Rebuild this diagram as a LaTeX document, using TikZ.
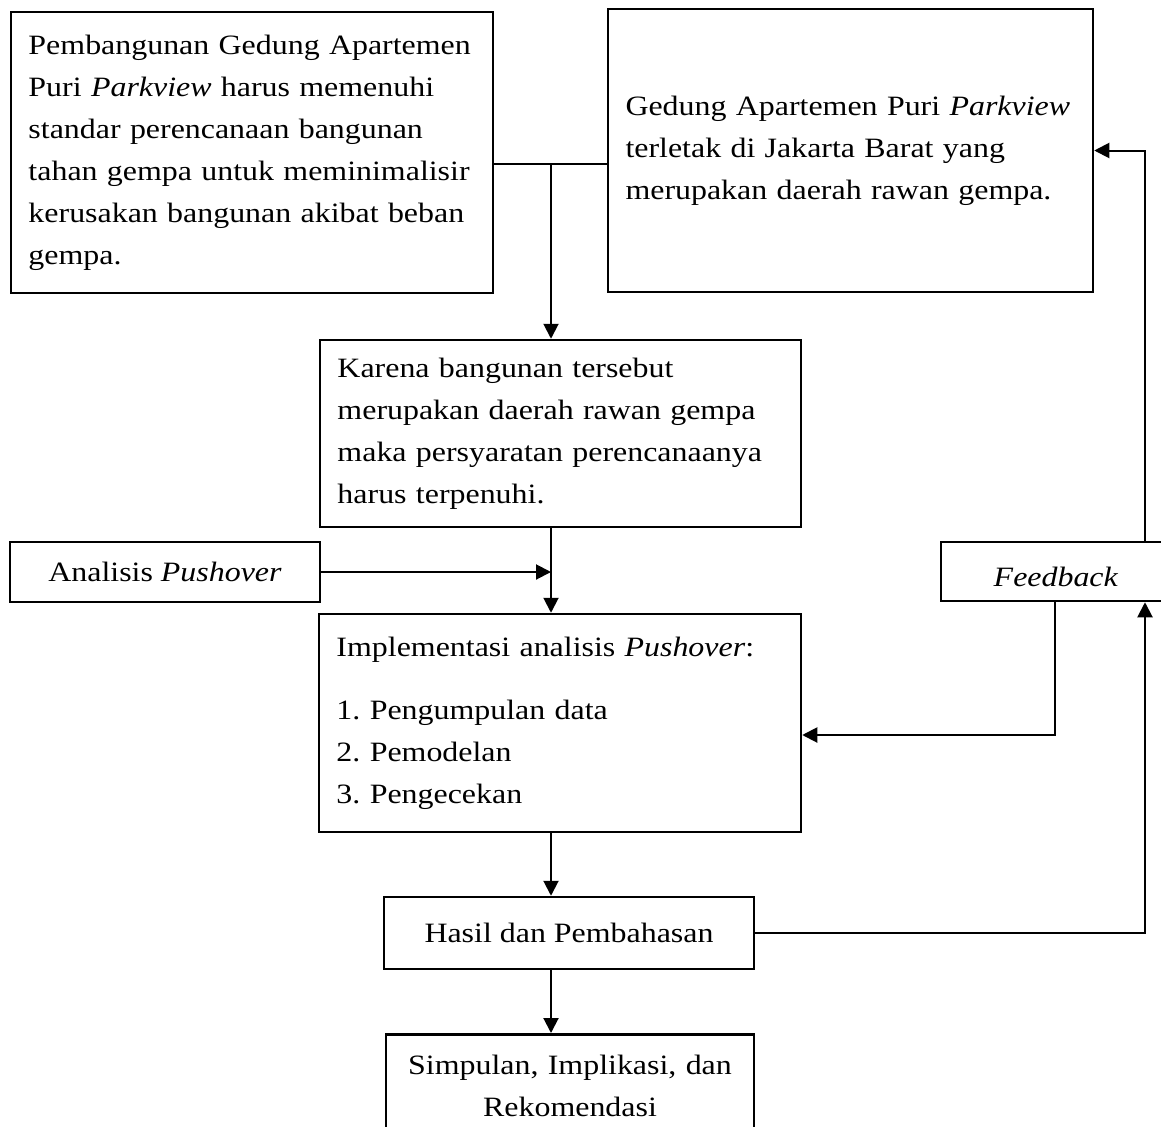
\documentclass[tikz,border=0pt]{standalone}
\usepackage{fontspec}
\setmainfont{Liberation Serif}[FakeStretch=1.14]
\usetikzlibrary{arrows.meta}

\begin{document}
\frenchspacing
\begin{tikzpicture}[x=0.4pt, y=-0.4pt,
    box/.style={draw=black, line width=1pt, inner xsep=7pt, inner ysep=0pt,
      font=\fontsize{11.2pt}{16.8pt}\selectfont},
    arr/.style={-{Triangle[length=6pt,width=6pt]}, line width=0.8pt}]
    \useasboundingbox (0,0) rectangle (1161,1127);
    % boxes
    \node[box, text width=178.8pt, minimum height=112.4pt, align=left] (A) at (252,152.5)
      {Pembangunan Gedung Apartemen\\ Puri \textit{Parkview} harus memenuhi\\ standar perencanaan bangunan\\
       tahan gempa untuk meminimalisir\\ kerusakan bangunan akibat beban\\ gempa.};
    \node[box, text width=180pt, minimum height=113.2pt, align=left] (B) at (850.5,150.5)
      {Gedung Apartemen Puri \textit{Parkview}\\ terletak di Jakarta Barat yang\\ merupakan daerah rawan gempa.};
    \node[box, text width=178.4pt, minimum height=74.8pt, align=left] (C) at (560.5,433.5)
      {Karena bangunan tersebut\\ merupakan daerah rawan gempa\\ maka persyaratan perencanaanya\\ harus terpenuhi.};
    \node[box, minimum width=124pt, minimum height=24pt] (D) at (165,572) {Analisis \textit{Pushover}};
    \node[box, text width=178.8pt, minimum height=87.2pt, align=left] (E) at (560,723)
      {Implementasi analisis \textit{Pushover}:\\[8.4pt] 1. Pengumpulan data\\ 2. Pemodelan\\ 3. Pengecekan};
    \node[box, minimum width=92pt, minimum height=23.6pt, text height=11.6pt, text depth=0pt] (F) at (1056,571.5)
      {\textit{Feedback}};
    \node[box, minimum width=148pt, minimum height=28.8pt] (G) at (569,933) {Hasil dan Pembahasan};
    \node[box, text width=133.2pt, inner ysep=8.5pt, align=center, anchor=north] (H) at (570,1033)
      {Simpulan, Implikasi, dan\\ Rekomendasi};
    % connectors
    \coordinate (jn) at (551,164);
    \coordinate (fr) at (1145,571.5);
    \coordinate (fl) at (1055,735);
    \draw[line width=0.5pt] (A.east |- jn) -- (B.west |- jn);
    \draw[arr] (jn) -- (C.north -| jn);
    \draw[arr] (C.south -| jn) -- (E.north -| jn);
    \draw[arr] (D.east) -- (D.east -| jn);
    \draw[arr] (E.south -| jn) -- (G.north -| jn);
    \draw[arr] (G.south -| jn) -- (H.north -| jn);
    \draw[arr] (G.east) -| (F.south -| fr);
    \draw[arr] (F.north -| fr) |- (B.east);
    \draw[arr] (F.south -| fl) |- (E.east |- fl);
\end{tikzpicture}
\end{document}
